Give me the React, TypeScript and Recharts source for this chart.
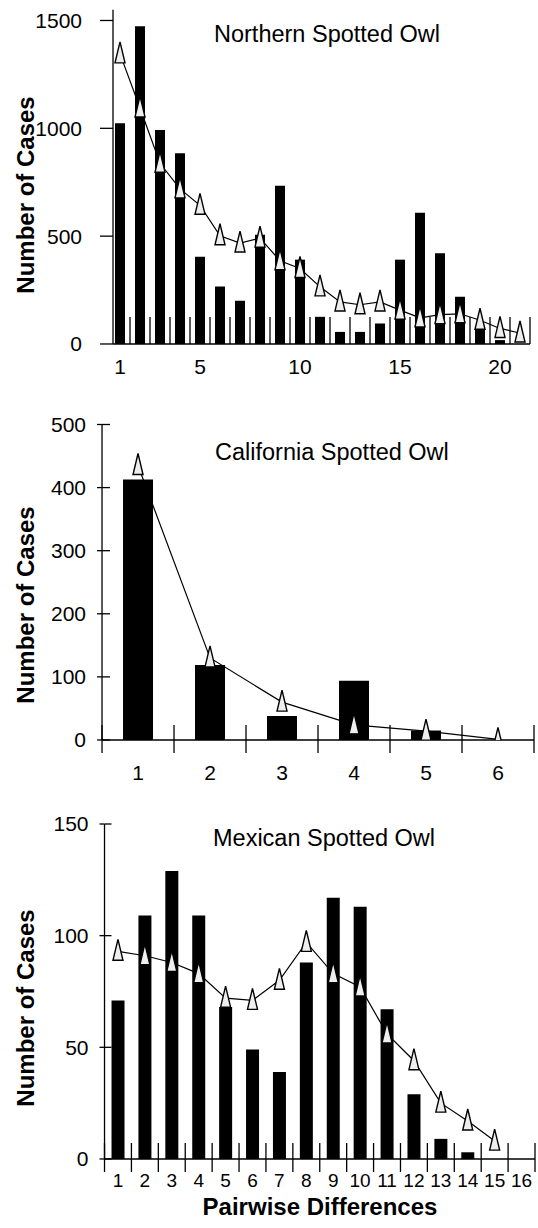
import React from 'react';
import { ComposedChart, Bar, Line, XAxis, YAxis } from 'recharts';

// pairwise differences (x categories)
const northDiffs = [1, 2, 3, 4, 5, 6, 7, 8, 9, 10, 11, 12, 13, 14, 15, 16, 17, 18, 19, 20, 21];
const northObserved = [1023, 1473, 992, 884, 405, 266, 201, 507, 734, 391, 126, 56, 56, 95, 391, 609, 421, 219, 65, 18, 0];
const northExpected = [1345, 1094, 838, 719, 643, 502, 468, 491, 386, 350, 265, 195, 182, 195, 157, 121, 136, 140, 110, 72, 51];
const northXTicks = [1, 5, 10, 15, 20];
const northYTicks = [0, 500, 1000, 1500];

const californiaDiffs = [1, 2, 3, 4, 5, 6];
const californiaObserved = [413, 119, 38, 94, 15, 0];
const californiaExpected = [435, 130, 60, 24, 14, 1];
const californiaXTicks = [1, 2, 3, 4, 5, 6];
const californiaYTicks = [0, 100, 200, 300, 400, 500];

const mexicanDiffs = [1, 2, 3, 4, 5, 6, 7, 8, 9, 10, 11, 12, 13, 14, 15, 16];
const mexicanObserved = [71, 109, 129, 109, 68, 49, 39, 88, 117, 113, 67, 29, 9, 3, 0, 0];
const mexicanExpected = [93, 91, 88, 83, 72, 71, 80, 97, 83, 77, 56, 44, 25, 17, 8, null];
const mexicanXTicks = [1, 2, 3, 4, 5, 6, 7, 8, 9, 10, 11, 12, 13, 14, 15, 16];
const mexicanYTicks = [0, 50, 100, 150];

const FONT = '"Liberation Sans", Arial, Helvetica, sans-serif';

const toRows = (diffs: number[], obs: number[], exp: (number | null)[]) =>
  diffs.map((d, i) => ({ diff: d, observed: obs[i], expected: exp[i] }));

function renderTriangle(props: any) {
  const { cx, cy, index } = props;
  if (cx == null || cy == null || Number.isNaN(cy)) return <g key={`t-${index}`} />;
  return (
    <polygon
      key={`t-${index}`}
      points={`${cx},${cy - 12} ${cx - 5},${cy + 9} ${cx + 5},${cy + 9}`}
      fill="#eeeeee"
      stroke="#000"
      strokeWidth={1.4}
    />
  );
}

const blank = () => '';

interface PanelProps {
  top: number;
  height: number;
  margin: { top: number; right: number; bottom: number; left: number };
  rows: { diff: number; observed: number; expected: number | null }[];
  xDomain: [number, number];
  xTicks: number[];
  yDomain: [number, number];
  yTicks: number[];
  barSize: number;
  tickUp: number;
  tickDown: number;
  yTickOut: number;
  yTickIn: number;
  yTickMargin: number;
  xFontSize: number;
  xTickMargin: number;
}

function Panel(p: PanelProps) {
  // tick marks sit on the category boundaries
  const bounds = p.rows.map((r) => r.diff + 0.5).filter((b) => b >= p.xDomain[0]);
  if (p.xDomain[0] === 0.5) bounds.unshift(0.5);
  const axisStroke = { stroke: '#000', strokeWidth: 1.3 };
  const noText = { fill: 'none', fontSize: 1 };
  return (
    <div style={{ position: 'absolute', left: 0, top: p.top }}>
      <ComposedChart width={538} height={p.height} data={p.rows} margin={p.margin}>
        <XAxis
          xAxisId="grid"
          dataKey="diff"
          type="number"
          domain={p.xDomain}
          ticks={bounds}
          interval={0}
          tick={noText}
          tickFormatter={blank}
          tickSize={-p.tickUp}
          height={0.01}
          axisLine={axisStroke}
          tickLine={axisStroke}
          allowDataOverflow
        />
        {p.tickDown > 0 && (
          <XAxis
            xAxisId="down"
            dataKey="diff"
            type="number"
            domain={p.xDomain}
            ticks={bounds}
            interval={0}
            tick={noText}
            tickFormatter={blank}
            tickSize={p.tickDown}
            height={0.01}
            axisLine={false}
            tickLine={axisStroke}
            allowDataOverflow
          />
        )}
        <XAxis
          xAxisId="labels"
          dataKey="diff"
          type="number"
          domain={p.xDomain}
          ticks={p.xTicks}
          interval={0}
          tickSize={0}
          tickMargin={p.xTickMargin}
          height={0.01}
          axisLine={false}
          tickLine={false}
          tick={{ fill: '#000', fontSize: p.xFontSize, fontFamily: FONT }}
          allowDataOverflow
        />
        <YAxis
          yAxisId="y"
          type="number"
          domain={p.yDomain}
          ticks={p.yTicks}
          interval={0}
          width={0.01}
          tickSize={p.yTickOut}
          tickMargin={p.yTickMargin}
          axisLine={axisStroke}
          tickLine={axisStroke}
          tick={{ fill: '#000', fontSize: 21, fontFamily: FONT }}
          allowDataOverflow
        />
        {p.yTickIn > 0 && (
          <YAxis
            yAxisId="yin"
            type="number"
            domain={p.yDomain}
            ticks={p.yTicks}
            interval={0}
            width={0.01}
            tickSize={-p.yTickIn}
            tick={noText}
            tickFormatter={blank}
            axisLine={false}
            tickLine={axisStroke}
            allowDataOverflow
          />
        )}
        <Bar xAxisId="grid" yAxisId="y" dataKey="observed" fill="#000" barSize={p.barSize} isAnimationActive={false} />
        <Line
          xAxisId="grid"
          yAxisId="y"
          dataKey="expected"
          type="linear"
          stroke="#000"
          strokeWidth={1.2}
          dot={renderTriangle}
          activeDot={false}
          isAnimationActive={false}
        />
      </ComposedChart>
    </div>
  );
}

export default function App() {
  return (
    <div style={{ position: 'absolute', left: 0, top: 0, width: 538, height: 1228, background: '#fff', overflow: 'hidden' }}>
      <Panel
        top={0}
        height={380}
        margin={{ top: 9.7, right: 8, bottom: 36, left: 113 }}
        rows={toRows(northDiffs, northObserved, northExpected)}
        xDomain={[0.65, 21.5]}
        xTicks={northXTicks}
        yDomain={[0, 1550]}
        yTicks={northYTicks}
        barSize={10}
        tickUp={27}
        tickDown={0}
        yTickOut={13}
        yTickIn={0}
        yTickMargin={18}
        xFontSize={21}
        xTickMargin={15.5}
      />
      <Panel
        top={380}
        height={420}
        margin={{ top: 44.5, right: 4, bottom: 60, left: 102 }}
        rows={toRows(californiaDiffs, californiaObserved, californiaExpected)}
        xDomain={[0.5, 6.5]}
        xTicks={californiaXTicks}
        yDomain={[0, 500]}
        yTicks={californiaYTicks}
        barSize={30}
        tickUp={15}
        tickDown={13}
        yTickOut={5}
        yTickIn={8}
        yTickMargin={11}
        xFontSize={21}
        xTickMargin={25.5}
      />
      <Panel
        top={800}
        height={428}
        margin={{ top: 24, right: 3, bottom: 69, left: 104.5 }}
        rows={toRows(mexicanDiffs, mexicanObserved, mexicanExpected)}
        xDomain={[0.5, 16.5]}
        xTicks={mexicanXTicks}
        yDomain={[0, 150]}
        yTicks={mexicanYTicks}
        barSize={13}
        tickUp={16}
        tickDown={13}
        yTickOut={5}
        yTickIn={7}
        yTickMargin={11}
        xFontSize={19}
        xTickMargin={14.2}
      />
      <svg
        width={538}
        height={1228}
        style={{ position: 'absolute', left: 0, top: 0, pointerEvents: 'none' }}
        fontFamily={FONT}
      >
        <text x={214} y={41.7} fontSize={23.5} fill="#000">Northern Spotted Owl</text>
        <text x={215} y={460} fontSize={23.5} fill="#000">California Spotted Owl</text>
        <text x={213} y={846} fontSize={23.5} fill="#000">Mexican Spotted Owl</text>
        <text transform="translate(34,195) rotate(-90)" textAnchor="middle" fontSize={24} fontWeight="bold" fill="#000">
          Number of Cases
        </text>
        <text transform="translate(33.5,605) rotate(-90)" textAnchor="middle" fontSize={24} fontWeight="bold" fill="#000">
          Number of Cases
        </text>
        <text transform="translate(34,1008) rotate(-90)" textAnchor="middle" fontSize={24} fontWeight="bold" fill="#000">
          Number of Cases
        </text>
        <text x={320} y={1215} textAnchor="middle" fontSize={24} fontWeight="bold" fill="#000">
          Pairwise Differences
        </text>
      </svg>
    </div>
  );
}
